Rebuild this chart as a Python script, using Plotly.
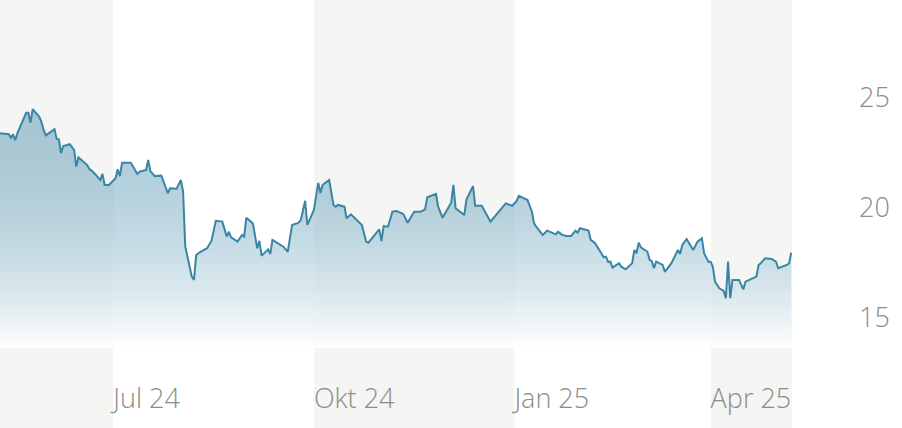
import plotly.graph_objects as go

dates = [
    "2024-05-10", "2024-05-14", "2024-05-15", "2024-05-16", "2024-05-17", "2024-05-18",
    "2024-05-22", "2024-05-23", "2024-05-24", "2024-05-25", "2024-05-28", "2024-05-29",
    "2024-05-30", "2024-05-31", "2024-06-04", "2024-06-05", "2024-06-06", "2024-06-07",
    "2024-06-08", "2024-06-11", "2024-06-13", "2024-06-14", "2024-06-15", "2024-06-19",
    "2024-06-20", "2024-06-21", "2024-06-23", "2024-06-25", "2024-06-26", "2024-06-27",
    "2024-06-29", "2024-07-02", "2024-07-03", "2024-07-04", "2024-07-05", "2024-07-09",
    "2024-07-12", "2024-07-13", "2024-07-16", "2024-07-17", "2024-07-18", "2024-07-20",
    "2024-07-23", "2024-07-25", "2024-07-26", "2024-07-27", "2024-07-30", "2024-08-01",
    "2024-08-02", "2024-08-03", "2024-08-06", "2024-08-07", "2024-08-08", "2024-08-10",
    "2024-08-13", "2024-08-15", "2024-08-17", "2024-08-20", "2024-08-22", "2024-08-23",
    "2024-08-24", "2024-08-27", "2024-08-29", "2024-08-30", "2024-08-31", "2024-09-03",
    "2024-09-05", "2024-09-06", "2024-09-07", "2024-09-10", "2024-09-11", "2024-09-12",
    "2024-09-17", "2024-09-19", "2024-09-21", "2024-09-24", "2024-09-25", "2024-09-27",
    "2024-09-28", "2024-10-01", "2024-10-03", "2024-10-04", "2024-10-05", "2024-10-08",
    "2024-10-10", "2024-10-11", "2024-10-12", "2024-10-15", "2024-10-16", "2024-10-18",
    "2024-10-23", "2024-10-25", "2024-10-26", "2024-10-31", "2024-11-01", "2024-11-02",
    "2024-11-04", "2024-11-06", "2024-11-08", "2024-11-11", "2024-11-13", "2024-11-16",
    "2024-11-19", "2024-11-21", "2024-11-22", "2024-11-26", "2024-11-27", "2024-11-29",
    "2024-12-03", "2024-12-04", "2024-12-05", "2024-12-09", "2024-12-10", "2024-12-13",
    "2024-12-14", "2024-12-17", "2024-12-21", "2024-12-28", "2024-12-31", "2025-01-02",
    "2025-01-03", "2025-01-07", "2025-01-09", "2025-01-10", "2025-01-11", "2025-01-14",
    "2025-01-16", "2025-01-20", "2025-01-21", "2025-01-23", "2025-01-25", "2025-01-27",
    "2025-01-29", "2025-01-30", "2025-01-31", "2025-02-04", "2025-02-05", "2025-02-07",
    "2025-02-11", "2025-02-12", "2025-02-13", "2025-02-14", "2025-02-15", "2025-02-18",
    "2025-02-19", "2025-02-21", "2025-02-24", "2025-02-25", "2025-02-26", "2025-02-27",
    "2025-02-28", "2025-03-03", "2025-03-04", "2025-03-05", "2025-03-06", "2025-03-07",
    "2025-03-10", "2025-03-11", "2025-03-14", "2025-03-17", "2025-03-18", "2025-03-19",
    "2025-03-21", "2025-03-24", "2025-03-26", "2025-03-28", "2025-03-29", "2025-03-31",
    "2025-04-01", "2025-04-02", "2025-04-03", "2025-04-05", "2025-04-07", "2025-04-08",
    "2025-04-09", "2025-04-10", "2025-04-11", "2025-04-14", "2025-04-16", "2025-04-17",
    "2025-04-22", "2025-04-23", "2025-04-24", "2025-04-26", "2025-04-29", "2025-05-01",
    "2025-05-02", "2025-05-06", "2025-05-07", "2025-05-08",
]

prices = [
    23.40, 23.35, 23.20, 23.35, 23.09, 23.40,
    24.33, 24.33, 23.88, 24.49, 24.15, 23.92,
    23.55, 23.30, 23.58, 23.14, 23.12, 22.49,
    22.82, 22.90, 22.64, 21.88, 22.30, 21.95,
    21.77, 21.70, 21.50, 21.27, 21.55, 21.05,
    21.05, 21.35, 21.76, 21.45, 22.06, 22.06,
    21.55, 21.65, 21.73, 22.18, 21.68, 21.45,
    21.47, 20.97, 20.67, 20.90, 20.88, 21.27,
    20.74, 18.24, 16.88, 16.73, 17.86, 18.01,
    18.17, 18.50, 19.42, 19.38, 18.70, 18.92,
    18.67, 18.47, 18.77, 18.70, 19.56, 19.30,
    18.17, 18.51, 17.83, 18.12, 17.91, 18.55,
    18.24, 18.01, 19.23, 19.33, 19.45, 20.33,
    19.23, 19.91, 21.14, 20.68, 21.05, 21.27,
    20.14, 20.06, 20.14, 20.06, 19.53, 19.71,
    19.23, 18.47, 18.42, 19.03, 18.50, 19.18,
    19.15, 19.83, 19.86, 19.73, 19.33, 19.83,
    19.83, 19.94, 20.49, 20.64, 20.06, 19.56,
    20.24, 21.05, 19.99, 19.68, 20.40, 20.99,
    20.10, 20.10, 19.38, 20.21, 20.10, 20.32,
    20.55, 20.36, 19.83, 19.30, 19.15, 18.77,
    18.97, 18.80, 18.92, 18.77, 18.73, 18.73,
    18.97, 18.88, 19.08, 18.97, 18.55, 18.40,
    17.76, 17.79, 17.55, 17.56, 17.29, 17.49,
    17.33, 17.21, 17.49, 18.09, 17.94, 18.42,
    18.21, 18.01, 17.64, 17.59, 17.26, 17.56,
    17.41, 17.10, 17.49, 18.09, 17.91, 18.32,
    18.59, 18.09, 18.47, 18.62, 17.94, 17.56,
    17.56, 17.33, 16.65, 16.35, 16.23, 15.90,
    17.56, 15.90, 16.73, 16.73, 16.30, 16.65,
    16.88, 17.41, 17.49, 17.71, 17.68, 17.56,
    17.26, 17.41, 17.49, 17.97,
]

x_tick_vals = ["2024-07-01", "2024-10-01", "2025-01-01", "2025-04-01"]
x_tick_text = ["Jul 24", "Okt 24", "Jan 25", "Apr 25"]
y_tick_vals = [15, 20, 25]

x_range = ["2024-05-10", "2025-05-08 08:00"]
y_range = [13.636, 29.4545]

band_starts = [x_range[0], "2024-10-01", "2025-04-01"]
band_ends = ["2024-07-01", "2025-01-01", x_range[1]]

LINE = "#3a85a5"
BAND = "#f5f5f3"
TXT = "#8c8c8c"
FONT = "Open Sans"
FSIZE = 27

fig = go.Figure()
fig.add_trace(go.Scatter(
    x=dates, y=prices, mode="lines",
    line=dict(color=LINE, width=2),
    fill="tozeroy",
    fillgradient=dict(
        type="vertical",
        start=y_range[0], stop=24.5,
        colorscale=[[0, "rgba(255,255,255,0.85)"], [1, "rgba(58,133,165,0.42)"]],
    ),
    hoverinfo="skip", showlegend=False,
))

shapes = []
for s, e in zip(band_starts, band_ends):
    shapes.append(dict(type="rect", xref="x", yref="paper", x0=s, x1=e,
                       y0=-80 / 348, y1=1, fillcolor=BAND, line=dict(width=0),
                       layer="below"))

fig.update_layout(
    width=902, height=428,
    margin=dict(l=0, r=110, t=0, b=80),
    paper_bgcolor="white", plot_bgcolor="white",
    shapes=shapes,
    showlegend=False,
    font=dict(family=FONT, color=TXT, size=FSIZE),
    xaxis=dict(
        type="date", range=x_range, tickvals=x_tick_vals, ticktext=x_tick_text,
        ticklabelposition="outside right", ticklabelstandoff=32,
        showgrid=False, zeroline=False, showline=False, ticks="",
        tickfont=dict(family=FONT, color=TXT, size=FSIZE, weight=300),
        fixedrange=True,
    ),
    yaxis=dict(
        side="right", range=y_range, tickvals=y_tick_vals,
        ticklabelstandoff=66,
        showgrid=False, zeroline=False, showline=False, ticks="",
        tickfont=dict(family=FONT, color=TXT, size=FSIZE, weight=300),
        fixedrange=True,
    ),
)

fig.write_html("out.html", config={"displayModeBar": False},
               post_script="document.body.style.margin='0';")
